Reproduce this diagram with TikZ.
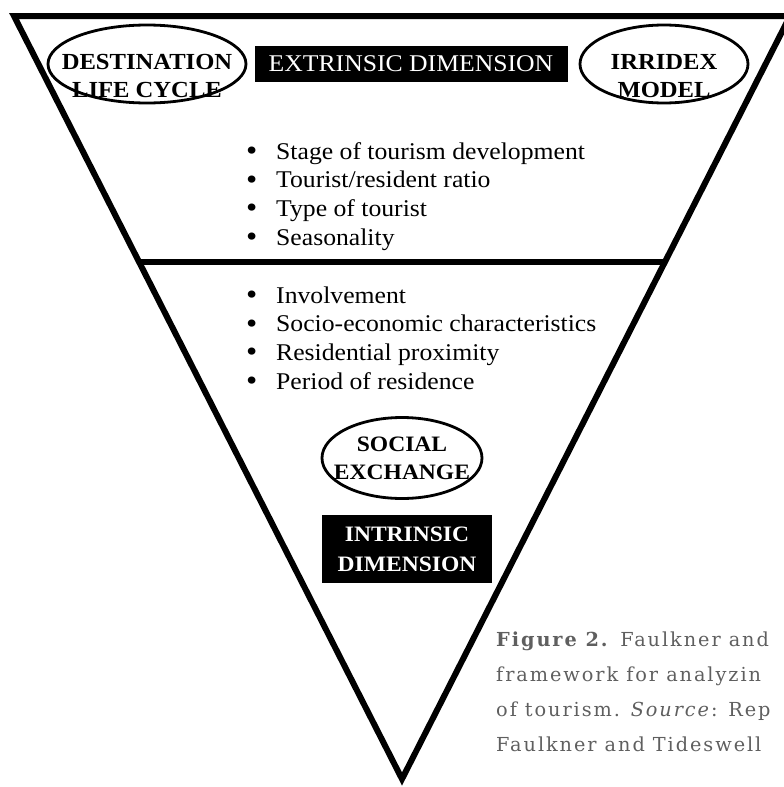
\documentclass[tikz,border=0pt]{standalone}
\usepackage{fontspec}
\setmainfont{Liberation Serif}[FakeStretch=1.07]
\newfontfamily\capfont{DejaVu Serif}[LetterSpace=10]
\usetikzlibrary{positioning,calc}
\definecolor{capgray}{RGB}{95,95,95}
\newcommand{\dotmark}{\makebox[30pt][l]{\raisebox{-1.5pt}{\fontsize{30}{30}\selectfont\textbullet}}}

\begin{document}
\begin{tikzpicture}[x=1pt, y=-1pt,
  frame/.style={line width=6pt, line join=miter},
  ring/.style={line width=2.8pt},
  tag/.style={inner sep=0pt, align=center, font=\fontsize{23}{28}\selectfont\bfseries},
  darkbox/.style={fill=black, text=white, inner sep=0pt, align=center},
  item/.style={anchor=base west, inner sep=0pt, font=\fontsize{24}{29}\selectfont},
  caption/.style={anchor=north west, inner sep=0pt, align=left, text=capgray, font=\capfont\fontsize{19.3}{35}\selectfont}]
  \useasboundingbox (0,0) rectangle (784,787);
  % funnel
  \coordinate (tl) at (14,16);
  \coordinate (tr) at (790,16);
  \coordinate (apex) at (402,779);
  \draw[frame] (tl) -- (tr) -- (apex) -- cycle;
  \coordinate (ml) at ($(tl)!0.322!(apex)$);
  \coordinate (mr) at ($(tr)!0.322!(apex)$);
  \draw[frame] (ml) -- (mr);
  % top row
  \node[tag] (dlc) at (147,76) {DESTINATION\\LIFE CYCLE};
  \draw[ring] ([yshift=12pt]dlc.center) ellipse (99 and 39);
  \node[darkbox, minimum width=313pt, minimum height=36pt, font=\fontsize{24}{28}\selectfont] (extdim) at (411,64) {EXTRINSIC DIMENSION};
  \node[tag] (irridex) at (664,76) {IRRIDEX\\MODEL};
  \draw[ring] ([yshift=12pt]irridex.center) ellipse (84 and 39);
  % extrinsic factors
  \foreach \t [count=\i] in {Stage of tourism development, Tourist/resident ratio, Type of tourist, Seasonality}
    \node[item] (ext\i) at (246,130.3+28.7*\i) {\dotmark\t};
  % intrinsic factors
  \foreach \t [count=\i] in {Involvement, Socio-economic characteristics, Residential proximity, Period of residence}
    \node[item] (int\i) at (246,274.3+28.7*\i) {\dotmark\t};
  % bottom
  \node[tag, font=\fontsize{22}{28}\selectfont\bfseries] (social) at (402,458) {SOCIAL\\EXCHANGE};
  \draw[ring] (social.center) ellipse (80 and 40.5);
  \node[darkbox, minimum width=170pt, minimum height=68pt, font=\fontsize{22}{30}\selectfont\bfseries] (intdim) at (407,549) {INTRINSIC\\DIMENSION};
  \node[caption] (cap) at (496,632) {\textbf{Figure 2.} Faulkner and\\framework for analyzin\\of tourism. \textit{Source}: Rep\\Faulkner and Tideswell};
\end{tikzpicture}
\end{document}
